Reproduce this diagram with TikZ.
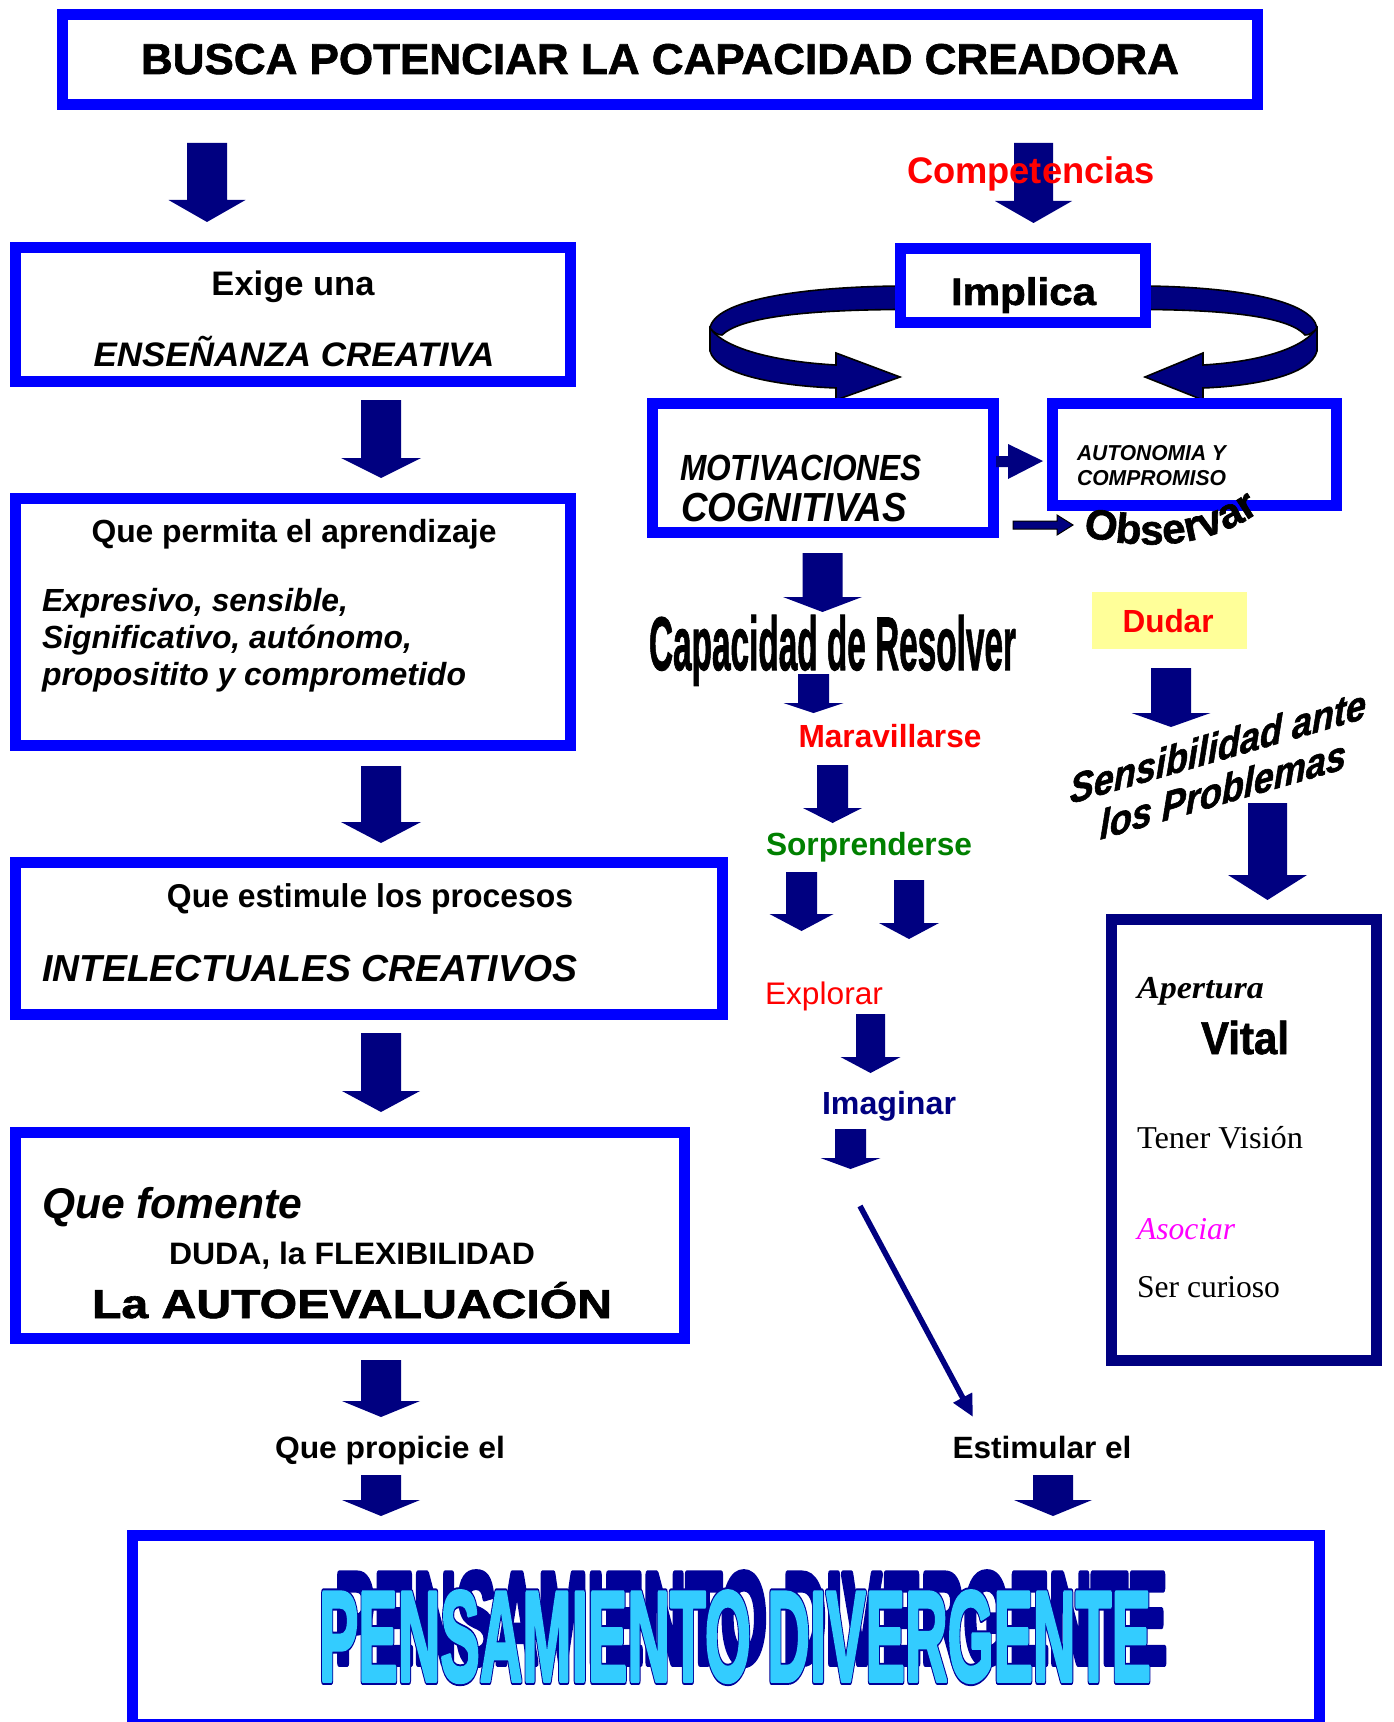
\documentclass[tikz,border=0pt]{standalone}
\usepackage{fontspec}
\usepackage{graphicx}
\setmainfont{Liberation Sans}
\newfontfamily\seriff{Liberation Serif}
\newfontfamily\heavy{Liberation Sans}[BoldFeatures={FakeBold=1.5}, BoldItalicFeatures={FakeBold=1.5}]
\newfontfamily\waout{Liberation Sans}[BoldFeatures={FakeBold=6}]
\newfontfamily\wafront{Liberation Sans}[BoldFeatures={FakeBold=3}]
\usetikzlibrary{decorations.text,arrows.meta}
\definecolor{bluec}{RGB}{0,0,255}
\definecolor{navy}{RGB}{0,0,128}
\definecolor{redc}{RGB}{255,0,0}
\definecolor{greenc}{RGB}{0,128,0}
\definecolor{magc}{RGB}{255,0,255}
\definecolor{yellc}{RGB}{255,255,153}
\definecolor{lightb}{RGB}{51,204,255}
\definecolor{wnavy}{RGB}{0,0,153}
\newcommand\fs[1]{\fontsize{#1}{#1}\selectfont}
\newcommand\fw[2]{\resizebox{#1}{\height}{#2}}
\newcommand\barrow[6]{\fill[navy] (#1-#3,#2) -- (#1+#3,#2) -- (#1+#3,#4) -- (#1+#5,#4) -- (#1,#6) -- (#1-#5,#4) -- (#1-#3,#4) -- cycle;}
\newcommand\pdt{\resizebox{416pt}{45pt}{\bfseries PENSAMIENTO DIVERGENTE}}
\begin{document}
\begin{tikzpicture}[x=0.5pt,y=-0.5pt,
  bbox/.style={draw=bluec, line width=5.5pt, fill=white, inner sep=0pt, outer sep=0pt},
  txt/.style={inner sep=0pt, outer sep=0pt, anchor=base},
  txtl/.style={inner sep=0pt, outer sep=0pt, anchor=base west},
  ribbon/.style={fill=navy, draw=black, line width=0.8pt},
  wa/.style={txt, line join=round, miter limit=1}]
\useasboundingbox (0,0) rectangle (1393,1722);

% ---------- ribbons (behind Implica box) ----------
\path[ribbon] (710,328) -- (710,351) .. controls (716,375) and (780,386) .. (836,388) -- (836,400) -- (900,377) -- (836,353) -- (836,365) .. controls (780,362) and (725,350) .. (710,328) -- cycle;
\path[ribbon] (900,286) .. controls (800,287) and (715,300) .. (710,328) .. controls (714,333) and (718,335) .. (722,335) .. controls (740,318) and (800,310) .. (900,309.5) -- cycle;
\path[ribbon] (1317,328) -- (1317,351) .. controls (1311,375) and (1255,386) .. (1203,388) -- (1203,400) -- (1145,377) -- (1203,353) -- (1203,365) .. controls (1255,362) and (1302,350) .. (1317,328) -- cycle;
\path[ribbon] (1145,286) .. controls (1235,287) and (1312,300) .. (1317,328) .. controls (1313,333) and (1309,335) .. (1305,335) .. controls (1290,318) and (1235,310) .. (1145,309.5) -- cycle;

% ---------- boxes ----------
\node[bbox, minimum width=597.5pt, minimum height=45pt] (top) at (660,59.5) {};
\node[bbox, minimum width=277.5pt, minimum height=67pt] (exige) at (293,314.5) {};
\node[bbox, minimum width=277.5pt, minimum height=123.5pt] (permita) at (293,622) {};
\node[bbox, minimum width=353.5pt, minimum height=76pt] (estimule) at (369,938.5) {};
\node[bbox, minimum width=334.5pt, minimum height=103pt] (fomente) at (350,1235.5) {};
\node[bbox, minimum width=593.5pt, minimum height=94.5pt] (pens) at (726,1630) {};
\node[bbox, minimum width=122.5pt, minimum height=37pt] (implica) at (1023,285.5) {};
\node[bbox, minimum width=170.5pt, minimum height=64.5pt] (motiv) at (823,468) {};
\node[bbox, minimum width=142pt, minimum height=51pt] (auton) at (1194.5,454.5) {};
\node[bbox, draw=navy, minimum width=132.5pt, minimum height=220.5pt] (apert) at (1244,1140) {};
\node[fill=yellc, inner sep=0pt, minimum width=77.5pt, minimum height=28.5pt] (dudarbox) at (1169.5,620.5) {};

% ---------- block arrows ----------
\barrow{207}{143}{20}{200}{38.5}{222}
\barrow{381}{400}{20}{458}{40}{478}
\barrow{381}{766}{20}{822}{40}{843}
\barrow{381}{1033}{20}{1091}{39}{1112}
\barrow{381}{1360}{20}{1401}{39}{1417}
\barrow{381}{1475}{20}{1500}{39}{1516}
\barrow{1033.5}{143}{19.5}{201}{38.5}{223}
\barrow{822.5}{553}{20}{597}{39.5}{612}
\barrow{813.5}{674}{15.5}{703}{30}{713}
\barrow{832.5}{765}{15.5}{808}{29.5}{823}
\barrow{801.5}{872}{15.5}{914}{32}{931}
\barrow{909}{880}{15}{923}{30}{939}
\barrow{870.5}{1014}{14.5}{1057}{30}{1073}
\barrow{850.5}{1129}{15.5}{1158}{30}{1169}
\barrow{1053}{1475}{20}{1500}{39}{1516}
\barrow{1171}{668}{20}{713}{39.5}{727}
\barrow{1267.5}{803}{19.5}{875}{39.5}{900}
% small horizontal arrows
\fill[navy] (996,456) -- (1008,456) -- (1008,444) -- (1043,461) -- (1008,479) -- (1008,467) -- (996,467) -- cycle;
\filldraw[navy, draw=black, line width=0.5pt] (1013,521) -- (1057,521) -- (1057,515) -- (1073,525) -- (1057,535) -- (1057,529) -- (1013,529) -- cycle;

% diagonal arrow
\coordinate (dgs) at (860,1206);
\coordinate (dge) at (973,1417);
\draw[navy, line width=2.8pt, -{Triangle[length=11pt,width=10pt]}] (dgs) -- (dge);

% ---------- texts left ----------
\node[txt, font=\heavy\fs{21.6}\bfseries] (t1) at (660,74) {\fw{519pt}{BUSCA POTENCIAR LA CAPACIDAD CREADORA}};
\node[txt, font=\fs{17}\bfseries] (t2a) at (293,296) {\fw{81.5pt}{Exige una}};
\node[txt, font=\fs{17}\bfseries\itshape] (t2b) at (294,366) {\fw{200.5pt}{ENSEÑANZA CREATIVA}};
\node[txt, font=\fs{16}\bfseries] (t3a) at (294,542) {\fw{202.5pt}{Que permita el aprendizaje}};
\node[txtl, font=\fs{16}\bfseries\itshape] (t3b) at (42,611) {\fw{153pt}{Expresivo, sensible,}};
\node[txtl, font=\fs{16}\bfseries\itshape] (t3c) at (42,648) {\fw{185pt}{Significativo, autónomo,}};
\node[txtl, font=\fs{16}\bfseries\itshape] (t3d) at (42,685) {\fw{212pt}{propositito y comprometido}};
\node[txt, font=\fs{16.5}\bfseries] (t4a) at (370,907) {\fw{203pt}{Que estimule los procesos}};
\node[txtl, font=\fs{18.8}\bfseries\itshape] (t4b) at (42,981) {\fw{267.5pt}{INTELECTUALES CREATIVOS}};
\node[txtl, font=\fs{21.5}\bfseries\itshape] (t5a) at (42,1218) {\fw{130pt}{Que fomente}};
\node[txt, font=\fs{15.5}\bfseries] (t5b) at (352,1264) {\fw{183pt}{DUDA, la FLEXIBILIDAD}};
\node[txt, font=\heavy\fs{20.3}\bfseries] (t5c) at (352,1318) {\fw{260pt}{La AUTOEVALUACIÓN}};
\node[txt, font=\fs{15.4}\bfseries] (t6) at (390,1458) {\fw{115pt}{Que propicie el}};
\node[txt, font=\fs{15.4}\bfseries] (t7) at (1042,1458) {\fw{89.5pt}{Estimular el}};

% ---------- texts right ----------
\node[txt, font=\fs{18.5}\bfseries, text=redc] (comp) at (1031,184) {\fw{124pt}{Competencias}};
\node[txt, font=\heavy\fs{19.2}\bfseries] (impl) at (1023.5,305) {\fw{72.5pt}{Implica}};
\node[txtl, font=\fs{18.2}\bfseries\itshape] (mot1) at (680,480) {\fw{121pt}{MOTIVACIONES}};
\node[txtl, font=\fs{20.3}\bfseries\itshape] (mot2) at (681,521) {\fw{113pt}{COGNITIVAS}};
\node[txtl, font=\fs{10.8}\bfseries\itshape] (aut1) at (1077,460) {\fw{74.5pt}{AUTONOMIA Y}};
\node[txtl, font=\fs{10.8}\bfseries\itshape] (aut2) at (1077,485) {\fw{74.5pt}{COMPROMISO}};
\node[txt, font=\heavy\fs{38}\bfseries] (capres) at (832.5,670) {\resizebox{183.5pt}{\height}{Capacidad de Resolver}};
\node[txt, font=\fs{16}\bfseries, text=redc] (marav) at (890,747) {\fw{91.5pt}{Maravillarse}};
\node[txt, font=\fs{16}\bfseries, text=greenc] (sorp) at (869,855) {\fw{103pt}{Sorprenderse}};
\node[txt, font=\fs{15.6}, text=redc] (expl) at (824,1004) {\fw{59pt}{Explorar}};
\node[txt, font=\fs{16}\bfseries, text=navy] (imag) at (889,1114) {\fw{67pt}{Imaginar}};
\node[txt, font=\fs{16}\bfseries, text=redc] (dudar) at (1168,632) {\fw{45.5pt}{Dudar}};
\node[txt, font=\heavy\fs{18}\bfseries\itshape, yslant=0.29] (sens1) at (1218,761) {\scalebox{1}[1.15]{Sensibilidad ante}};
\node[txt, font=\heavy\fs{18}\bfseries\itshape, yslant=0.29] (sens2) at (1223,804) {\scalebox{1}[1.15]{los Problemas}};
\path[decorate, decoration={text along path, text={|\heavy\fs{21}\bfseries|Observar}, text align=center}]
  (1080,535) .. controls (1150,553) and (1212,546) .. (1262,510);

% Apertura box texts
\node[txtl, font=\seriff\fs{16}\bfseries\itshape] (apt1) at (1137,998) {\fw{63.5pt}{Apertura}};
\node[txt, font=\heavy\fs{23}\bfseries] (apt2) at (1245,1054) {\fw{44pt}{Vital}};
\node[txtl, font=\seriff\fs{15.9}] (apt3) at (1137,1148) {\fw{83pt}{Tener Visión}};
\node[txtl, font=\seriff\fs{15.9}\itshape, text=magc] (apt4) at (1137,1239) {\fw{49pt}{Asociar}};
\node[txtl, font=\seriff\fs{15.9}] (apt5) at (1137,1297) {\fw{71.5pt}{Ser curioso}};

% ---------- PENSAMIENTO DIVERGENTE ----------
\node[wa, text=wnavy, font=\waout] (pshadow) at (751,1663) {\pdt};
\node[wa, text=wnavy, font=\waout] (poutline) at (735,1681) {\pdt};
\node[wa, text=lightb, font=\wafront] (pdiv) at (735,1681) {\pdt};
\end{tikzpicture}
\end{document}
